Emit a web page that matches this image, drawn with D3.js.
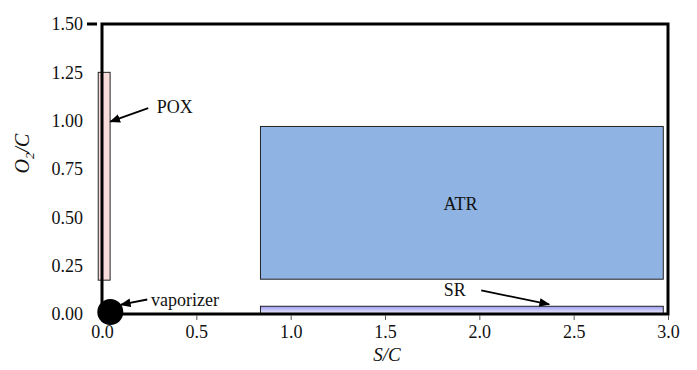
<!DOCTYPE html>
<html>
<head>
<meta charset="utf-8">
<script src="https://cdn.jsdelivr.net/npm/d3@7"></script>
<style>
  body { margin: 0; background: #fff; }
</style>
</head>
<body>
<svg id="chart" width="697" height="370"></svg>
<script>
// Operating regions in the S/C – O2/C plane
const regionNames = ["POX", "ATR", "SR"];
const regionSC    = [[-0.02, 0.043], [0.84, 2.975], [0.84, 2.975]];
const regionO2C   = [[0.175, 1.25], [0.18, 0.97], [0.0, 0.04]];
const vaporizer   = [0.044, 0.01];

const xTicks = [0.0, 0.5, 1.0, 1.5, 2.0, 2.5, 3.0];
const yTicks = [0.00, 0.25, 0.50, 0.75, 1.00, 1.25, 1.50];

const SERIF = "'Liberation Serif', 'DejaVu Serif', serif";
const FS = 18;

const svg = d3.select("#chart");
const m = { left: 102, right: 29, top: 24, bottom: 56 };
const W = 697, H = 370;

const x = d3.scaleLinear().domain([0, 3]).range([m.left, W - m.right]);
const y = d3.scaleLinear().domain([0, 1.5]).range([H - m.bottom, m.top]);

const defs = svg.append("defs");
const g1 = defs.append("linearGradient").attr("id", "srFill")
  .attr("x1", 0).attr("y1", 0).attr("x2", 0).attr("y2", 1);
g1.append("stop").attr("offset", "0%").attr("stop-color", "#9c9cf2");
g1.append("stop").attr("offset", "100%").attr("stop-color", "#f2f2ff");

const fills = { POX: "#f8dcdc", ATR: "#8fb3e2", SR: "url(#srFill)" };

// Region rectangles
regionNames.forEach((name, i) => {
  const [x0, x1] = regionSC[i];
  const [y0, y1] = regionO2C[i];
  svg.append("rect")
    .attr("x", x(x0)).attr("y", y(y1))
    .attr("width", x(x1) - x(x0)).attr("height", y(y0) - y(y1))
    .attr("fill", fills[name])
    .attr("stroke", "#222").attr("stroke-width", 1);
});

// Frame around the plot area
svg.append("rect")
  .attr("x", x(0)).attr("y", y(1.5))
  .attr("width", x(3) - x(0)).attr("height", y(0) - y(1.5))
  .attr("fill", "none").attr("stroke", "#000").attr("stroke-width", 3);

function styleText(sel, size) {
  sel.style("font-family", SERIF).style("font-size", size + "px").style("fill", "#111");
}

// X axis
const xAxis = d3.axisBottom(x).tickValues(xTicks).tickFormat(d3.format(".1f"))
  .tickSize(5).tickPadding(5);
const gx = svg.append("g").attr("transform", `translate(0,${y(0) + 1})`).call(xAxis);
gx.select(".domain").remove();
gx.selectAll("line").attr("stroke", "#555").attr("stroke-width", 1);
styleText(gx.selectAll("text"), FS);

// Y axis
const yAxis = d3.axisLeft(y).tickValues(yTicks).tickFormat(d3.format(".2f"))
  .tickSize(0).tickPadding(19);
const gy = svg.append("g").attr("transform", `translate(${x(0)},0)`).call(yAxis);
gy.select(".domain").remove();
styleText(gy.selectAll("text"), FS);
svg.append("line")
  .attr("x1", x(0) - 15).attr("x2", x(0) - 5)
  .attr("y1", y(1.5)).attr("y2", y(1.5))
  .attr("stroke", "#000").attr("stroke-width", 3);

// Axis titles
styleText(svg.append("text")
  .attr("x", (x(0) + x(3)) / 2 + 2).attr("y", 361)
  .attr("text-anchor", "middle").style("font-style", "italic")
  .text("S/C"), 19);
const yt = svg.append("text")
  .attr("transform", `translate(29,${y(0.83)}) rotate(-90)`)
  .attr("text-anchor", "middle").style("font-style", "italic");
styleText(yt, 20);
yt.append("tspan").text("O");
yt.append("tspan").style("font-size", "13px").attr("dy", 5).text("2");
yt.append("tspan").attr("dy", -5).text("/C");

// Vaporizer marker
svg.append("circle")
  .attr("cx", x(vaporizer[0])).attr("cy", y(vaporizer[1]))
  .attr("r", 13).attr("fill", "#000");

// Arrow heads
defs.append("marker").attr("id", "arrow")
  .attr("viewBox", "0 0 10 10").attr("refX", 9).attr("refY", 5)
  .attr("markerWidth", 6).attr("markerHeight", 6).attr("orient", "auto")
  .append("path").attr("d", "M0,1 L10,5 L0,9 Z").attr("fill", "#000");

function arrow(x1, y1, x2, y2) {
  svg.append("line")
    .attr("x1", x(x1)).attr("y1", y(y1)).attr("x2", x(x2)).attr("y2", y(y2))
    .attr("stroke", "#000").attr("stroke-width", 1.8)
    .attr("marker-end", "url(#arrow)");
}

function label(px, py, txt, anchor) {
  styleText(svg.append("text").attr("x", x(px)).attr("y", y(py)).attr("dy", "0.35em")
    .attr("text-anchor", anchor || "start").text(txt), FS);
}

// Annotations
arrow(0.245, 1.065, 0.044, 0.995);
label(0.29, 1.07, "POX");

arrow(0.24, 0.075, 0.1, 0.048);
label(0.26, 0.075, "vaporizer");

label(1.9, 0.57, "ATR", "middle");

arrow(2.01, 0.122, 2.37, 0.05);
label(1.87, 0.125, "SR", "middle");
</script>
</body>
</html>
